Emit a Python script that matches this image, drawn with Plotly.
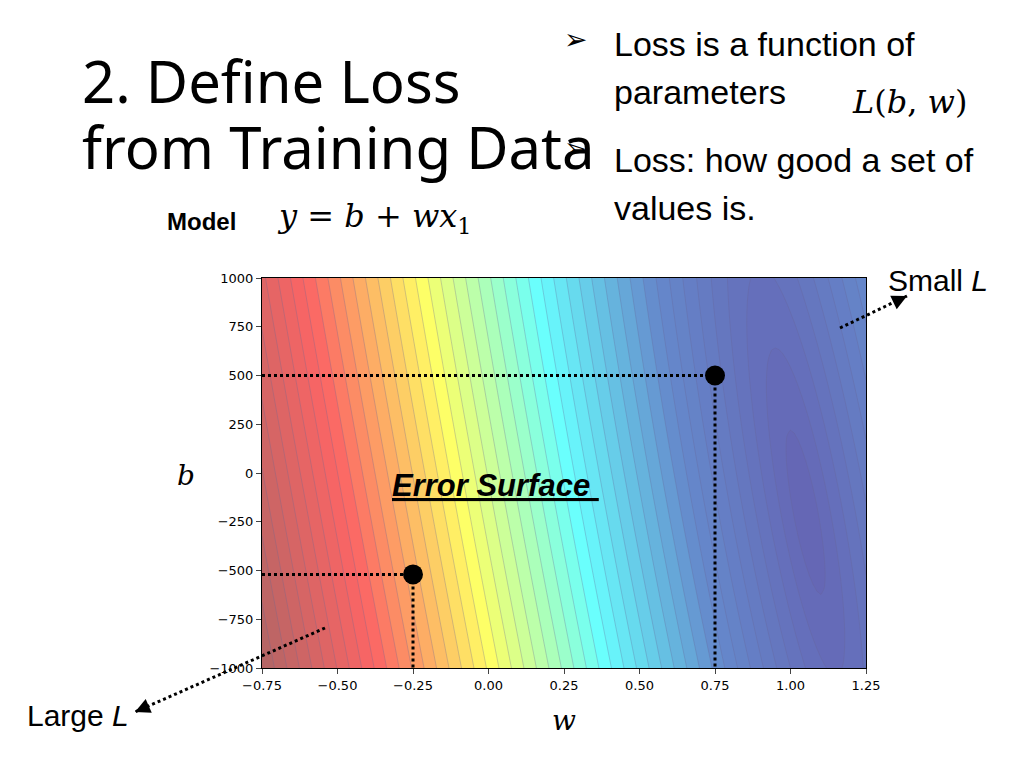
import numpy as np
import plotly.graph_objects as go

# training data used to build the error surface
x_data = [300, 800, 1500, 2500, 3500, 4500, 6000, 7500, 9500, 14000]
y_data = [110, 640, 1380, 2420, 3480, 4520, 6080, 7700, 9760, 14500]

w_vals = np.linspace(-0.75, 1.25, 161)
b_vals = np.linspace(-1000, 1000, 161)

point_w = [0.75, -0.25]
point_b = [500, -520]

w_ticks = [-0.75, -0.5, -0.25, 0, 0.25, 0.5, 0.75, 1.0, 1.25]
w_text = ["\u22120.75", "\u22120.50", "\u22120.25", "0.00", "0.25", "0.50", "0.75", "1.00", "1.25"]
b_ticks = [1000, 750, 500, 250, 0, -250, -500, -750, -1000]
b_text = ["1000", "750", "500", "250", "0", "\u2212250", "\u2212500", "\u2212750", "\u22121000"]

xd = np.array(x_data, float)
yd = np.array(y_data, float)
W, B = np.meshgrid(w_vals, b_vals)
loss = np.sqrt(((yd[None, None, :] - B[..., None] - W[..., None] * xd[None, None, :]) ** 2).mean(axis=2))
zmax = float(loss.max())

OFF = 8  # page offset of the plot div
L, R, T, BT = 262 - OFF, 158 + OFF, 278 - OFF, 100 + OFF
def px(x): return (x - OFF - L) / (1024 - L - R)
def py(y): return (768 - BT - (y - OFF)) / (768 - T - BT)

fig = go.Figure()
fig.add_trace(go.Contour(x=w_vals, y=b_vals, z=loss, colorscale="Jet", opacity=0.6,
                         zmin=0, zmax=zmax * 1.08, zauto=False,
                         showscale=False, contours=dict(start=0, end=zmax, size=zmax / 46),
                         line=dict(color="rgba(0,0,80,0.3)", width=1), hoverinfo="skip"))

for w, b in zip(point_w, point_b):
    fig.add_trace(go.Scatter(x=[-0.75, w], y=[b, b], mode="lines",
                             line=dict(color="black", width=3, dash="dot"), showlegend=False))
    fig.add_trace(go.Scatter(x=[w, w], y=[b, -1000], mode="lines",
                             line=dict(color="black", width=3, dash="dot"), showlegend=False))
fig.add_trace(go.Scatter(x=point_w, y=point_b, mode="markers",
                         marker=dict(color="black", size=20), showlegend=False))

tf = dict(family="DejaVu Sans", size=13, color="black")
fig.update_xaxes(range=[-0.75, 1.25], tickvals=w_ticks, ticktext=w_text, ticks="outside",
                 showline=True, linecolor="black", mirror=True, showgrid=False, zeroline=False, tickfont=tf)
fig.update_yaxes(range=[-1000, 1000], tickvals=b_ticks, ticktext=b_text, ticks="outside",
                 showline=True, linecolor="black", mirror=True, showgrid=False, zeroline=False, tickfont=tf)

ann = [
    (80, 80, "2. Define Loss", 58, "Noto Sans", "left"),
    (80, 146, "from Training Data", 58, "Noto Sans", "left"),
    (562, 40, "\u27a2", 28, "DejaVu Sans", "left"),
    (612, 44, "Loss is a function of", 34, "Liberation Sans", "left"),
    (612, 92, "parameters", 34, "Liberation Sans", "left"),
    (850, 102, "<i>L</i>(<i>b</i>, <i>w</i>)", 32, "DejaVu Serif", "left"),
    (562, 148, "\u27a2", 28, "DejaVu Sans", "left"),
    (612, 160, "Loss: how good a set of", 34, "Liberation Sans", "left"),
    (612, 208, "values is.", 34, "Liberation Sans", "left"),
    (165, 221, "<b>Model</b>", 24, "Liberation Sans", "left"),
    (275, 218, "<i>y</i> = <i>b</i> + <i>wx</i><sub>1</sub>", 32, "DejaVu Serif", "left"),
    (886, 280, "Small <i>L</i>", 30, "Liberation Sans", "left"),
    (25, 715, "Large <i>L</i>", 30, "Liberation Sans", "left"),
    (175, 475, "<i>b</i>", 28, "DejaVu Serif", "left"),
    (550, 720, "<i>w</i>", 28, "DejaVu Serif", "left"),
    (390, 485, "<b><i><u>Error Surface </u></i></b>", 31, "Liberation Sans", "left"),
]
for x, y, t, s, f, a in ann:
    fig.add_annotation(x=px(x), y=py(y), xref="paper", yref="paper", text=t, showarrow=False,
                       xanchor=a, yanchor="middle", font=dict(family=f, size=s, color="black"))

# dotted pointer arrows: dotted shaft plus a short solid head
for x0, y0, x1, y1 in [(840, 328, 907, 296), (325, 628, 135, 712)]:
    fig.add_shape(type="line", xref="paper", yref="paper", x0=px(x0), y0=py(y0), x1=px(x1), y1=py(y1),
                  line=dict(color="black", width=3, dash="dot"))
    d = np.hypot(x0 - x1, y0 - y1)
    fig.add_annotation(x=px(x1), y=py(y1), ax=(x0 - x1) / d * 12, ay=(y0 - y1) / d * 12,
                       xref="paper", yref="paper", axref="pixel", ayref="pixel", text="",
                       showarrow=True, arrowhead=2, arrowsize=1, arrowwidth=3, arrowcolor="black")

fig.update_layout(width=1024, height=768, margin=dict(l=L, r=R, t=T, b=BT),
                  plot_bgcolor="white", paper_bgcolor="white")
fig.write_html("out.html")
